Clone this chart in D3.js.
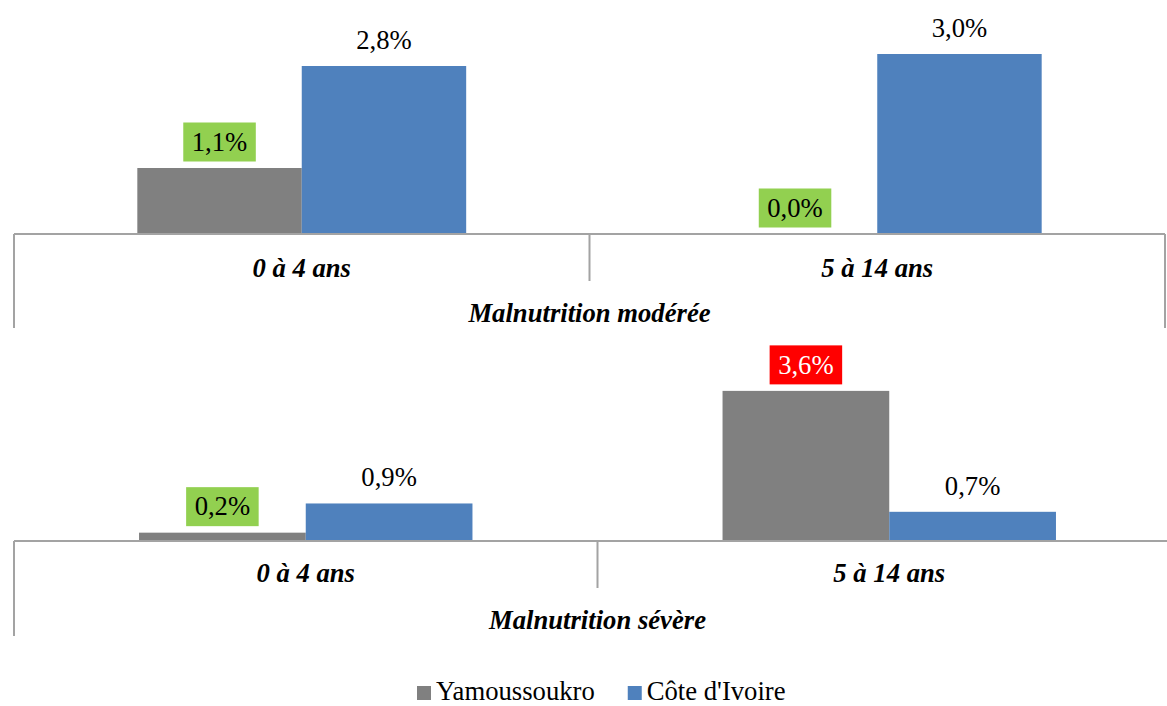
<!DOCTYPE html>
<html>
<head>
<meta charset="utf-8">
<script src="https://cdn.jsdelivr.net/npm/d3@7/dist/d3.min.js"></script>
<style>
  html, body { margin: 0; padding: 0; background: #fff; }
  svg { display: block; }
</style>
</head>
<body>
<svg id="chart" width="1167" height="706"></svg>
<script>
// Age groups and series
const ageGroups = ["0 à 4 ans", "5 à 14 ans"];
const seriesNames = ["Yamoussoukro", "Côte d'Ivoire"];

// Prevalence (%) — moderate malnutrition
const moderateYamoussoukro = [1.1, 0.0];
const moderateCoteIvoire = [2.8, 3.0];

// Prevalence (%) — severe malnutrition
const severeYamoussoukro = [0.2, 3.6];
const severeCoteIvoire = [0.9, 0.7];

const panelTitles = ["Malnutrition modérée", "Malnutrition sévère"];

// ---- drawing ----
const FONT = '"Liberation Serif"';
const FS = "26.67px";
const colors = { "Yamoussoukro": "#808080", "Côte d'Ivoire": "#4F81BD" };
const axisColor = "#A3A3A3";
const svg = d3.select("#chart");
const fmt = v => d3.format(".1f")(v).replace(".", ",") + "%";

const panels = [
  { title: panelTitles[0], yam: moderateYamoussoukro, ci: moderateCoteIvoire,
    x0: 14, x1: 1165, base: 234, yMax: 3.5, yTop: 24,
    tickEnd: 281, frameEnd: 328, catY: 268, titleY: 313 },
  { title: panelTitles[1], yam: severeYamoussoukro, ci: severeCoteIvoire,
    x0: 14, x1: 1181, base: 541, yMax: 4, yTop: 374.2,
    tickEnd: 588, frameEnd: 636, catY: 573, titleY: 620 }
];

panels.forEach(p => {
  const g = svg.append("g");
  const x = d3.scaleBand().domain(ageGroups).range([p.x0, p.x1]).paddingInner(0).paddingOuter(0);
  const xs = d3.scaleBand().domain(seriesNames).range([0, x.bandwidth()]).paddingInner(0).paddingOuter(0.75);
  const y = d3.scaleLinear().domain([0, p.yMax]).range([p.base, p.yTop]);

  const rows = [];
  ageGroups.forEach((a, i) => {
    rows.push({ age: a, series: seriesNames[0], value: p.yam[i], other: p.ci[i] });
    rows.push({ age: a, series: seriesNames[1], value: p.ci[i], other: p.yam[i] });
  });

  // bars
  g.selectAll("rect.bar").data(rows).join("rect")
    .attr("class", "bar")
    .attr("x", d => x(d.age) + xs(d.series))
    .attr("width", xs.bandwidth())
    .attr("y", d => y(d.value))
    .attr("height", d => y(0) - y(d.value))
    .attr("fill", d => colors[d.series]);

  // axis frame: baseline, outer edges and the divider between age groups
  g.append("line").attr("x1", p.x0).attr("x2", p.x1).attr("y1", p.base).attr("y2", p.base)
    .attr("stroke", axisColor).attr("stroke-width", 2);
  g.append("line").attr("x1", p.x0).attr("x2", p.x0).attr("y1", p.base).attr("y2", p.frameEnd)
    .attr("stroke", axisColor).attr("stroke-width", 2);
  g.append("line").attr("x1", p.x1).attr("x2", p.x1).attr("y1", p.base).attr("y2", p.frameEnd)
    .attr("stroke", axisColor).attr("stroke-width", 2);
  ageGroups.slice(1).forEach(a => {
    g.append("line").attr("x1", x(a)).attr("x2", x(a)).attr("y1", p.base).attr("y2", p.tickEnd)
      .attr("stroke", axisColor).attr("stroke-width", 2);
  });

  // category labels
  g.selectAll("text.cat").data(ageGroups).join("text")
    .attr("class", "cat")
    .style("font-family", FONT)
    .attr("x", d => x(d) + x.bandwidth() / 2)
    .attr("y", p.catY).attr("dy", "0.35em")
    .attr("text-anchor", "middle")
    .style("font-size", FS).style("font-weight", "bold").style("font-style", "italic")
    .text(d => d);

  // group title
  g.append("text")
    .style("font-family", FONT)
    .attr("x", (p.x0 + p.x1) / 2).attr("y", p.titleY).attr("dy", "0.35em")
    .attr("text-anchor", "middle")
    .style("font-size", FS).style("font-weight", "bold").style("font-style", "italic")
    .text(p.title);

  // value labels; Yamoussoukro labels are highlighted (red when above the national value)
  rows.forEach(d => {
    const cx = x(d.age) + xs(d.series) + xs.bandwidth() / 2;
    const cy = y(d.value) - 26;
    const lg = g.append("g");
    const highlighted = d.series === seriesNames[0];
    const worse = highlighted && d.value > d.other;
    const t = lg.append("text")
      .style("font-family", FONT)
      .attr("x", cx).attr("y", cy).attr("dy", "0.33em")
      .attr("text-anchor", "middle")
      .style("font-size", FS)
      .attr("fill", worse ? "#FFFFFF" : "#000000")
      .text(fmt(d.value));
    if (highlighted) {
      const bb = t.node().getBBox();
      lg.insert("rect", "text")
        .attr("x", cx - bb.width / 2 - 8.5).attr("width", bb.width + 17)
        .attr("y", cy - 19.5).attr("height", 39)
        .attr("fill", worse ? "#FF0000" : "#92D050");
    }
  });
});

// legend
const legend = svg.append("g").attr("transform", "translate(417, 700)");
let lx = 0;
seriesNames.forEach(s => {
  const item = legend.append("g").attr("transform", `translate(${lx},0)`);
  item.append("rect").attr("x", 0).attr("y", -14).attr("width", 14).attr("height", 14).attr("fill", colors[s]);
  const t = item.append("text").style("font-family", FONT).attr("x", 19).attr("y", 0)
    .style("font-size", FS).text(s);
  lx += 19 + t.node().getComputedTextLength() + 33;
});
</script>
</body>
</html>
